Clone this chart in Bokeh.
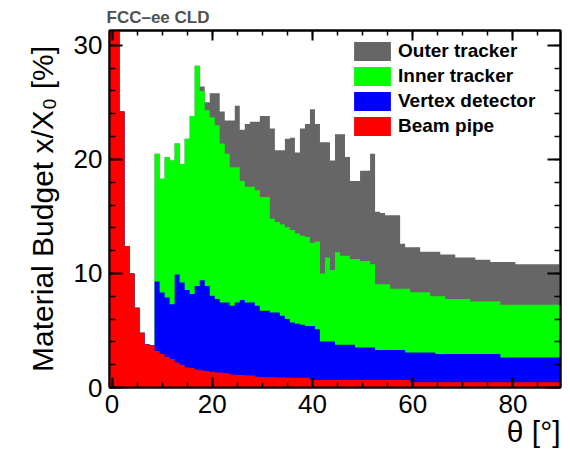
import numpy as np
from bokeh.plotting import figure
from bokeh.models import (Range1d, LinearAxis, FixedTicker, CustomJSTickFormatter,
                          Legend, LegendItem, ColumnDataSource, Title)
from bokeh.embed import file_html
from bokeh.resources import INLINE

# ---- data: material budget x/X0 [%] per 1-degree theta bin (bin centres 0..89) ----
theta = list(range(90))

beam_pipe = [57.0, 35.0, 24.2, 12.4, 10.0, 7.0, 4.8, 3.8, 3.7, 3.2,
             2.93, 2.7, 2.5, 2.2, 2.0, 1.76, 1.7, 1.55, 1.5, 1.45,
             1.35, 1.32, 1.3, 1.25, 1.15, 1.1, 1.1, 1.05, 1.05, 0.95,
             0.92, 0.9, 0.9, 0.88, 0.88, 0.85, 0.85, 0.85, 0.85, 0.85,
             0.65, 0.65, 0.65, 0.65, 0.65, 0.65, 0.65, 0.65, 0.65, 0.65,
             0.65, 0.65, 0.65, 0.65, 0.65, 0.65, 0.65, 0.65, 0.65, 0.65,
             0.45, 0.45, 0.45, 0.45, 0.45, 0.45, 0.45, 0.45, 0.45, 0.45,
             0.45, 0.45, 0.45, 0.45, 0.45, 0.45, 0.45, 0.45, 0.45, 0.45,
             0.45, 0.45, 0.45, 0.45, 0.45, 0.45, 0.45, 0.45, 0.45, 0.45]

vertex = [0, 0, 0, 0, 0, 0, 0, 0, 0, 6.1,
          5.41, 5.2, 4.8, 7.7, 7.2, 6.79, 6.5, 7.35, 7.9, 7.45,
          6.7, 6.44, 6.16, 6.21, 6.02, 6.36, 6.57, 6.41, 6.41, 6.22,
          5.81, 5.83, 5.68, 5.7, 5.42, 5.15, 4.85, 4.75, 4.65, 4.55,
          4.75, 4.45, 3.39, 3.39, 3.39, 3.1, 3.1, 3.1, 3.1, 2.85,
          2.85, 2.85, 2.85, 2.63, 2.63, 2.63, 2.63, 2.63, 2.63, 2.42,
          2.62, 2.62, 2.62, 2.62, 2.62, 2.48, 2.48, 2.48, 2.48, 2.48,
          2.48, 2.48, 2.48, 2.48, 2.48, 2.48, 2.48, 2.48, 2.18, 2.18,
          2.18, 2.18, 2.18, 2.18, 2.18, 2.18, 2.18, 2.18, 2.18, 2.18]

inner_tracker = [0, 0, 0, 0, 0, 0, 0, 0, 0, 11.2,
                 9.96, 12.3, 12.6, 11.5, 10.4, 13.25, 15.6, 19.3, 16.6, 15.4,
                 15.65, 15.24, 13.94, 13.04, 12.13, 11.84, 10.43, 10.14, 10.14, 10.13,
                 9.97, 9.97, 8.22, 7.92, 8.0, 8.05, 8.1, 7.9, 7.8, 7.8,
                 7.3, 7.7, 5.96, 7.36, 6.26, 8.1, 7.81, 7.81, 7.52, 7.77,
                 7.6, 7.6, 7.3, 5.77, 5.77, 5.77, 5.37, 5.37, 5.37, 5.58,
                 5.28, 5.28, 5.28, 5.28, 4.93, 5.07, 5.07, 4.83, 4.83, 4.83,
                 4.83, 4.83, 4.62, 4.62, 4.62, 4.62, 4.62, 4.62, 4.63, 4.63,
                 4.63, 4.63, 4.63, 4.63, 4.63, 4.63, 4.63, 4.63, 4.63, 4.63]

outer_tracker = [0, 0, 0, 0, 0, 0, 0, 0, 0, 0,
                 0, 0, 0, 0, 0, 0, 0, 0, 0.4, 0.7,
                 2.1, 2.8, 2.8, 2.9, 4.1, 5.4, 4.5, 5.5, 5.7, 6.0,
                 7.1, 7.1, 7.9, 6.3, 6.5, 7.75, 8.1, 7.1, 9.4, 9.9,
                 11.7, 10.3, 11.5, 10.1, 9.6, 10.35, 10.64, 8.64, 6.83, 6.83,
                 7.9, 7.9, 9.7, 6.35, 6.25, 6.05, 6.45, 6.45, 3.95, 3.65,
                 3.95, 3.95, 3.55, 3.55, 3.9, 3.9, 3.65, 3.89, 3.89, 3.64,
                 3.64, 3.64, 3.85, 3.65, 3.65, 3.65, 3.45, 3.45, 3.74, 3.74,
                 3.74, 3.54, 3.54, 3.54, 3.54, 3.54, 3.54, 3.54, 3.54, 3.54]

series = [("Beam pipe", beam_pipe, "#ff0000"),
          ("Vertex detector", vertex, "#0000ff"),
          ("Inner tracker", inner_tracker, "#00ff00"),
          ("Outer tracker", outer_tracker, "#666666")]

x_ticks = [0, 20, 40, 60, 80]
x_minor_ticks = list(range(0, 90, 5))
y_ticks = [0, 10, 20, 30]
y_minor_ticks = list(range(0, 32, 2))

FONT = "Liberation Sans"

p = figure(width=570, height=455, output_backend="svg", toolbar_location=None,
           x_range=Range1d(-0.5, 89.5), y_range=Range1d(0, 31.3),
           min_border_left=109, min_border_right=10, min_border_top=30,
           min_border_bottom=68)
p.xgrid.visible = False
p.ygrid.visible = False
p.outline_line_color = "black"
p.outline_line_width = 2
p.background_fill_color = "white"
p.border_fill_color = "white"

# stacked step histogram: each layer drawn from 0 up to its cumulative top,
# outermost first (as ROOT THStack does), so no seams appear between bins.
theta_arr = np.asarray(theta, dtype=float)
left_edges = theta_arr - 0.5
right_edges = theta_arr + 0.5
cumulative = np.cumsum([np.asarray(s[1], dtype=float) for s in series], axis=0)

renderers = {}
for k in (3, 2, 1, 0):
    name, _, color = series[k]
    top = cumulative[k]
    xs = np.column_stack([left_edges, right_edges]).ravel()
    ys = np.repeat(top, 2)
    px = np.concatenate([[left_edges[0]], xs, [right_edges[-1]]])
    py = np.concatenate([[0.0], ys, [0.0]])
    src = ColumnDataSource(dict(x=px, y=py))
    renderers[name] = p.patch(x="x", y="y", source=src, fill_color=color,
                              line_color=None)


def style_axis(ax, ticks, minor, tick_in, minor_in, show_labels):
    ax.ticker = FixedTicker(ticks=ticks, minor_ticks=minor)
    ax.major_tick_in = tick_in
    ax.major_tick_out = 0
    ax.minor_tick_in = minor_in
    ax.minor_tick_out = 0
    ax.major_tick_line_width = 2
    ax.minor_tick_line_width = 1.5
    ax.major_tick_line_color = "black"
    ax.minor_tick_line_color = "black"
    ax.axis_line_color = "black"
    ax.axis_line_width = 2
    if show_labels:
        ax.major_label_text_font = FONT
        ax.major_label_text_font_size = "26px"
        ax.major_label_text_color = "black"
        ax.major_label_standoff = 7
    else:
        ax.formatter = CustomJSTickFormatter(code="return ''")
        ax.major_label_text_font_size = "0px"
        ax.major_label_standoff = 0


xax = p.xaxis[0]
yax = p.yaxis[0]
style_axis(xax, x_ticks, x_minor_ticks, 10, 5, True)
style_axis(yax, y_ticks, y_minor_ticks, 13, 6, True)

top_axis = LinearAxis()
style_axis(top_axis, x_ticks, x_minor_ticks, 10, 5, False)
p.add_layout(top_axis, "above")
right_axis = LinearAxis()
style_axis(right_axis, y_ticks, y_minor_ticks, 13, 6, False)
p.add_layout(right_axis, "right")

# y-axis title
yax.axis_label = "Material Budget x/X\u2080 [%]"
yax.axis_label_text_font = FONT
yax.axis_label_text_font_size = "30px"
yax.axis_label_text_font_style = "normal"
yax.axis_label_text_color = "black"
yax.axis_label_standoff = 12

# x-axis title, right-aligned under the end of the axis (ROOT style)
p.add_layout(Title(text="\u03b8 [\u00b0]", align="right", text_font=FONT,
                   text_font_size="30px", text_font_style="normal",
                   text_color="black", standoff=-6, offset=0), "below")

# header
p.title.text = "FCC\u2013ee CLD"
p.title.align = "left"
p.title.text_font = FONT
p.title.text_font_size = "17px"
p.title.text_font_style = "bold"
p.title.text_color = "#505050"
p.title.offset = -3
p.title.standoff = 8

legend = Legend(items=[LegendItem(label=series[k][0], renderers=[renderers[series[k][0]]])
                       for k in (3, 2, 1, 0)],
                location=(240, 249), margin=0, padding=0, spacing=1,
                glyph_width=46, glyph_height=24, label_standoff=3,
                label_text_font=FONT, label_text_font_size="19px",
                label_text_font_style="bold", label_text_color="black",
                background_fill_alpha=0, border_line_color=None)
p.add_layout(legend)

open("out.html", "w").write(file_html(p, INLINE))
